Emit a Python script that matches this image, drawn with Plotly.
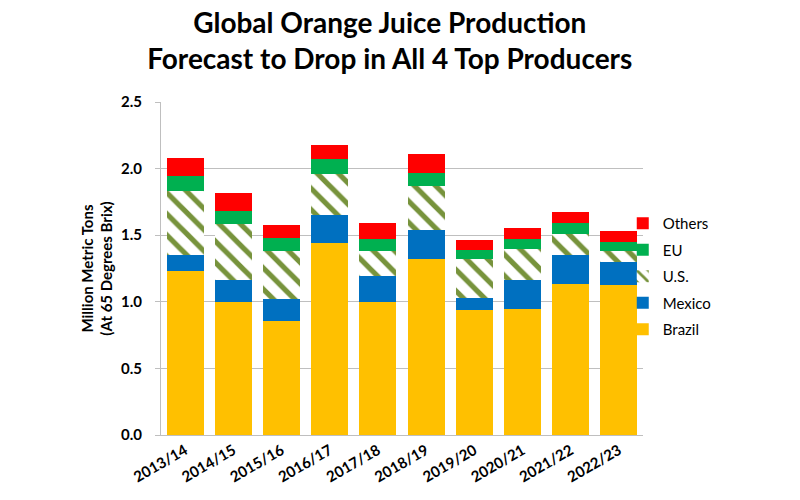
import plotly.graph_objects as go

years = ["2013/14", "2014/15", "2015/16", "2016/17", "2017/18",
         "2018/19", "2019/20", "2020/21", "2021/22", "2022/23"]
brazil = [1.23, 1.00, 0.855, 1.445, 1.00, 1.32, 0.935, 0.945, 1.135, 1.125]
mexico = [0.12, 0.16, 0.165, 0.21, 0.19, 0.22, 0.09, 0.22, 0.215, 0.175]
us = [0.48, 0.425, 0.36, 0.305, 0.19, 0.33, 0.30, 0.23, 0.16, 0.085]
eu = [0.115, 0.095, 0.10, 0.115, 0.09, 0.10, 0.065, 0.075, 0.08, 0.065]
others = [0.135, 0.14, 0.095, 0.10, 0.125, 0.14, 0.075, 0.085, 0.085, 0.08]

FONT = "Lato"

fig = go.Figure()
fig.add_trace(go.Bar(name="Brazil", x=years, y=brazil, legendgroup="b", legendrank=5,
                     marker=dict(color="#FFC000", line=dict(width=0))))
fig.add_trace(go.Bar(name="Mexico", x=years, y=mexico, legendgroup="m", legendrank=4,
                     marker=dict(color="#0070C0", line=dict(width=0))))
fig.add_trace(go.Bar(name="U.S.", x=years, y=us, legendgroup="u", legendrank=3,
                     marker=dict(color="white", line=dict(width=0),
                                 pattern=dict(shape="\\", fgcolor="#77933C", bgcolor="white",
                                              size=15, solidity=0.35, fillmode="replace"))))
fig.add_trace(go.Bar(name="EU", x=years, y=eu, legendgroup="e", legendrank=2,
                     marker=dict(color="#00B050", line=dict(width=0))))
fig.add_trace(go.Bar(name="Others", x=years, y=others, legendgroup="o", legendrank=1,
                     marker=dict(color="#FF0000", line=dict(width=0))))

fig.update_layout(
    barmode="stack",
    bargap=0.23,
    width=792, height=492,
    paper_bgcolor="white", plot_bgcolor="white",
    margin=dict(l=153, r=157, t=94, b=65),
    font=dict(family=FONT, color="black"),
    title=dict(text="<b>Global Orange Juice Production<br>Forecast to Drop in All 4 Top Producers</b>",
               x=0.482, xanchor="center", y=0.949, yanchor="top",
               font=dict(size=28, family=FONT, color="black")),
    legend=dict(x=0.958, xanchor="left", y=0.476, yanchor="middle",
                bgcolor="rgba(0,0,0,0)",
                traceorder="grouped", font=dict(size=15, family=FONT),
                itemwidth=30, tracegroupgap=4),
    showlegend=True,
)
fig.update_yaxes(range=[0, 2.5], dtick=0.5, tickformat=".1f", automargin=False,
                 showgrid=True, gridcolor="#BFBFBF", gridwidth=1.3,
                 showline=True, linecolor="#BFBFBF", linewidth=1,
                 ticks="outside", tickcolor="#BFBFBF", ticklen=5, ticklabelstandoff=10,
                 tickfont=dict(size=15, family=FONT, color="black", weight="bold"),
                 title=dict(text="<b>Million Metric Tons<br>(At 65 Degrees Brix)</b>",
                            font=dict(size=15, family=FONT), standoff=4),
                 zeroline=False)
fig.update_xaxes(showline=True, linecolor="#BFBFBF", linewidth=1.3, automargin=False,
                 tickangle=-30, ticks="",
                 tickfont=dict(size=15, family=FONT, color="black", weight="bold"))

fig.write_html("out.html")
